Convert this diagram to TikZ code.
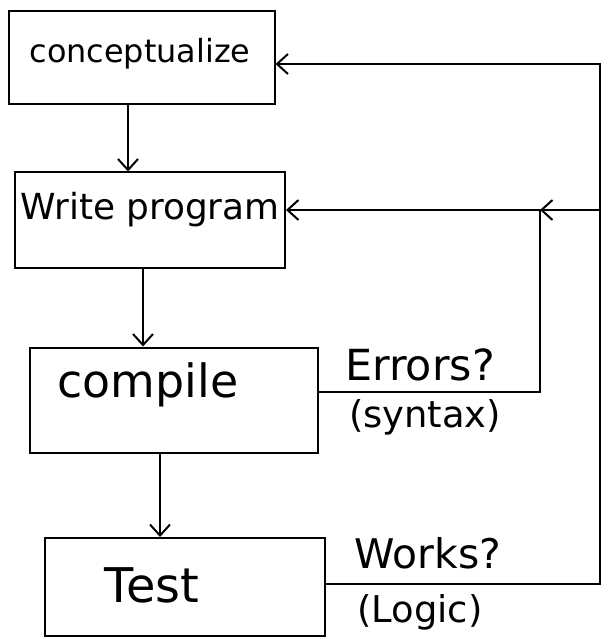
\documentclass[tikz,border=0pt]{standalone}
\usepackage{fontspec}
\setmainfont{DejaVu Sans}
\usetikzlibrary{arrows.meta}
\begin{document}
\begin{tikzpicture}[x=1bp,y=-1bp,
  box/.style={draw,line width=2bp,inner sep=0pt},
  lbl/.style={inner sep=0pt},
  conn/.style={line width=2bp,-{Straight Barb[length=11bp,width=20bp]}},
  wire/.style={line width=2bp}]
\useasboundingbox (0,0) rectangle (608,639);
% boxes
\node[box,minimum width=265bp,minimum height=93bp] (c) at (142,58) {};
\node[box,minimum width=270bp,minimum height=95bp] (w) at (150,220) {};
\node[box,minimum width=288bp,minimum height=105bp] (k) at (174,400) {};
\node[box,minimum width=280bp,minimum height=98bp] (t) at (185,587) {};
% box texts
\node[lbl,font=\fontsize{32}{36}\selectfont] (ct) at (140,54) {conceptualize};
\node[lbl,font=\fontsize{36}{40}\selectfont] (wt) at (150,210) {Write program};
\node[lbl,font=\fontsize{46}{52}\selectfont] (kt) at (148,385) {compile};
\node[lbl,font=\fontsize{48}{54}\selectfont] (tt) at (152,585) {Test};
% labels
\node[lbl,font=\fontsize{43}{48}\selectfont] (e1) at (420,365) {Errors?};
\node[lbl,font=\fontsize{37}{42}\selectfont] (e2) at (425,417) {(syntax)};
\node[lbl,font=\fontsize{41}{46}\selectfont] (g1) at (428,553) {Works?};
\node[lbl,font=\fontsize{37}{42}\selectfont] (g2) at (420,612) {(Logic)};
% coordinates
\coordinate (j1) at (540,392);
\coordinate (j2) at (540,210);
\coordinate (r1) at (600,584);
\coordinate (r2) at (600,64);
\coordinate (r3) at (600,210);
% down arrows
\draw[conn] ([xshift=-14bp]c.south) -- ([xshift=-14bp]c.south |- w.north);
\draw[conn] ([xshift=-7bp]w.south) -- ([xshift=-7bp]w.south |- k.north);
\draw[conn] ([xshift=-14bp]k.south) -- ([xshift=-14bp]k.south |- t.north);
% feedback loops
\draw[conn] (k.east |- j1) -- (j1) -- (j2) -- (w.east |- j2);
\draw[conn] (t.east |- r1) -- (r1) -- (r2) -- (c.east |- r2);
\draw[conn] (r3) -- (j2);
\end{tikzpicture}
\end{document}
